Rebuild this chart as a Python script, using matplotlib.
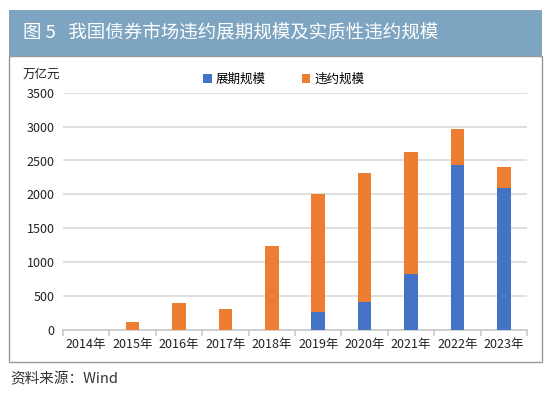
import numpy as np
import matplotlib.pyplot as plt
from matplotlib.patches import Rectangle

plt.rcParams['font.family'] = ['Noto Sans CJK SC', 'DejaVu Sans']

years = ['2014年', '2015年', '2016年', '2017年', '2018年',
         '2019年', '2020年', '2021年', '2022年', '2023年']
extend = [0, 0, 0, 0, 0, 270, 413, 821, 2434, 2094]
default = [0, 122, 394, 305, 1245, 1730, 1898, 1809, 531, 310]

blue = '#4472c4'
orange = '#ed7d31'

fig = plt.figure(figsize=(5.5, 3.96), dpi=100)

# header band and frame
fig.patches.append(Rectangle((9/550, 1-56/396), 533/550, 46/396,
                             transform=fig.transFigure, facecolor='#7da5c1',
                             edgecolor='none'))
fig.patches.append(Rectangle((9/550, 1-362/396), 533/550, 306/396,
                             transform=fig.transFigure, facecolor='none',
                             edgecolor='#9a9a9a', linewidth=1))
fig.text(23/550, 1-33/396, '图 5   我国债券市场违约展期规模及实质性违约规模',
         color='white', fontsize=13.3, va='center', ha='left')

ax = fig.add_axes([63/550, 1-330/396, 464/550, 237.3/396])
x = np.arange(len(years))
ax.bar(x, extend, width=0.29, color=blue, label='展期规模', zorder=3)
ax.bar(x, default, width=0.29, bottom=extend, color=orange, label='违约规模', zorder=3)

ax.set_xlim(-0.5, len(years) - 0.5)
ax.set_ylim(0, 3500)
ax.set_yticks(range(0, 3501, 500))
ax.set_xticks(x)
ax.set_xticklabels(years)
ax.set_xticks(np.arange(-0.5, len(years), 1), minor=True)
ax.grid(axis='y', color='#d9d9d9', linewidth=1.2, zorder=0)
for s in ['top', 'right', 'left']:
    ax.spines[s].set_visible(False)
ax.spines['bottom'].set_color('#c8c8c8')
ax.spines['bottom'].set_linewidth(1.2)
ax.tick_params(axis='x', which='major', length=0, pad=6, labelsize=9, colors='#222222')
ax.tick_params(axis='x', which='minor', length=4, color='#c8c8c8', width=1.2)
ax.tick_params(axis='y', length=0, pad=6, labelsize=9, colors='#222222')

fig.text(23/550, 1-74/396, '万亿元', fontsize=9, va='center', ha='left', color='#222222')
ax.legend(loc='upper center', bbox_to_anchor=(0.475, 1.13), ncol=2, frameon=False,
          fontsize=9, handlelength=0.7, handleheight=0.7, columnspacing=2.9,
          handletextpad=0.3)

fig.text(10/550, 1-379/396, '资料来源：Wind', fontsize=10.5, va='center', ha='left',
         color='#333333')

fig.savefig('out.png', dpi=100)
